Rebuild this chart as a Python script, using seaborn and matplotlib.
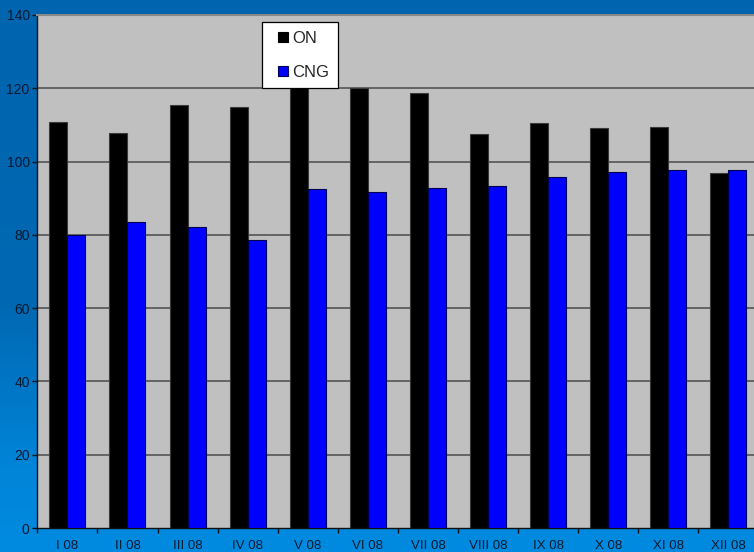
import numpy as np
import pandas as pd
import matplotlib
matplotlib.use("Agg")
import matplotlib.pyplot as plt
from matplotlib.colors import LinearSegmentedColormap
from matplotlib.lines import Line2D
import seaborn as sns

months = ["I 08", "II 08", "III 08", "IV 08", "V 08", "VI 08",
          "VII 08", "VIII 08", "IX 08", "X 08", "XI 08", "XII 08"]
on_values = [110.9, 107.7, 115.4, 114.8, 121.0, 120.0,
             118.7, 107.4, 110.4, 109.1, 109.3, 96.8]
cng_values = [80.0, 83.4, 82.2, 78.6, 92.5, 91.6,
              92.9, 93.3, 95.8, 97.1, 97.7, 97.6]
series = ["ON", "CNG"]
y_ticks = [0, 20, 40, 60, 80, 100, 120, 140]

df = pd.DataFrame({
    "month": months * 2,
    "value": on_values + cng_values,
    "fuel": ["ON"] * len(months) + ["CNG"] * len(months),
})

sns.set_theme(style="white")
plt.rcParams["font.family"] = ["Liberation Sans", "DejaVu Sans"]

fig = plt.figure(figsize=(7.54, 5.52), dpi=100)

# blue gradient backdrop behind the plot
bg = fig.add_axes([0, 0, 1, 1], zorder=-10)
cmap = LinearSegmentedColormap.from_list(
    "backdrop",
    [(0.0, "#0064AE"), (0.55, "#0068B3"), (0.85, "#0085D8"), (1.0, "#008BE0")])
bg.imshow(np.linspace(0, 1, 256).reshape(-1, 1), aspect="auto", cmap=cmap,
          extent=[0, 1, 0, 1])
bg.set_axis_off()

ax = fig.add_axes([37.3 / 754, 24 / 552, 721.2 / 754, 513 / 552])
ax.set_facecolor("#C0C0C0")

palette = {"ON": "#000000", "CNG": "#0000FF"}
sns.barplot(data=df, x="month", y="value", hue="fuel", hue_order=series,
            order=months, palette=palette, width=0.6, saturation=1,
            legend=False, ax=ax, zorder=3)

for bar in ax.patches:
    fc = bar.get_facecolor()
    if fc[2] > 0.5:
        bar.set_edgecolor("#000050")
    else:
        bar.set_edgecolor("#3a3a3a")
    bar.set_linewidth(0.8)

ax.set_xlim(-0.5, len(months) - 0.5)
ax.set_ylim(0, 140)
ax.set_yticks(y_ticks)
ax.set_yticklabels([str(t) for t in y_ticks])
for t in y_ticks[1:-1]:
    ax.axhline(t, color="#555555", lw=1.2, zorder=1)

ax.set_xlabel("")
ax.set_ylabel("")

ax.set_xticks(np.arange(len(months)))
ax.set_xticklabels(months)
ax.set_xticks(np.arange(-0.5, len(months), 1.0), minor=True)
ax.tick_params(axis="x", which="major", length=0, pad=8.5, labelsize=9.5,
               labelcolor="#0a1a30")
ax.tick_params(axis="x", which="minor", length=3.5, width=1, color="#111111",
               direction="out", bottom=True)
ax.tick_params(axis="y", length=3.5, width=1, color="#111111", direction="out",
               left=True, pad=2, labelsize=10, labelcolor="#0a1a30")

for side in ["left", "bottom"]:
    ax.spines[side].set_color("#111111")
    ax.spines[side].set_linewidth(1.0)
ax.spines["top"].set_color("#8a8a8a")
ax.spines["top"].set_linewidth(1.5)
ax.spines["right"].set_visible(False)

handles = [Line2D([], [], ls="none", marker="s", markersize=6.5,
                  markerfacecolor=palette[s],
                  markeredgecolor="#000000" if s == "ON" else "#000050",
                  markeredgewidth=0.8, label=s)
           for s in series]
leg = ax.legend(handles=handles, loc="upper left",
                bbox_to_anchor=(0.3116, 0.986), frameon=True, fancybox=False,
                framealpha=1, edgecolor="#000000", facecolor="#FFFFFF",
                fontsize=12, handlelength=1.5, handletextpad=-0.2,
                labelspacing=1.12, borderpad=0.52, borderaxespad=0)
leg.get_frame().set_linewidth(0.9)
leg.set_zorder(10)

fig.savefig("out.png", dpi=100)
